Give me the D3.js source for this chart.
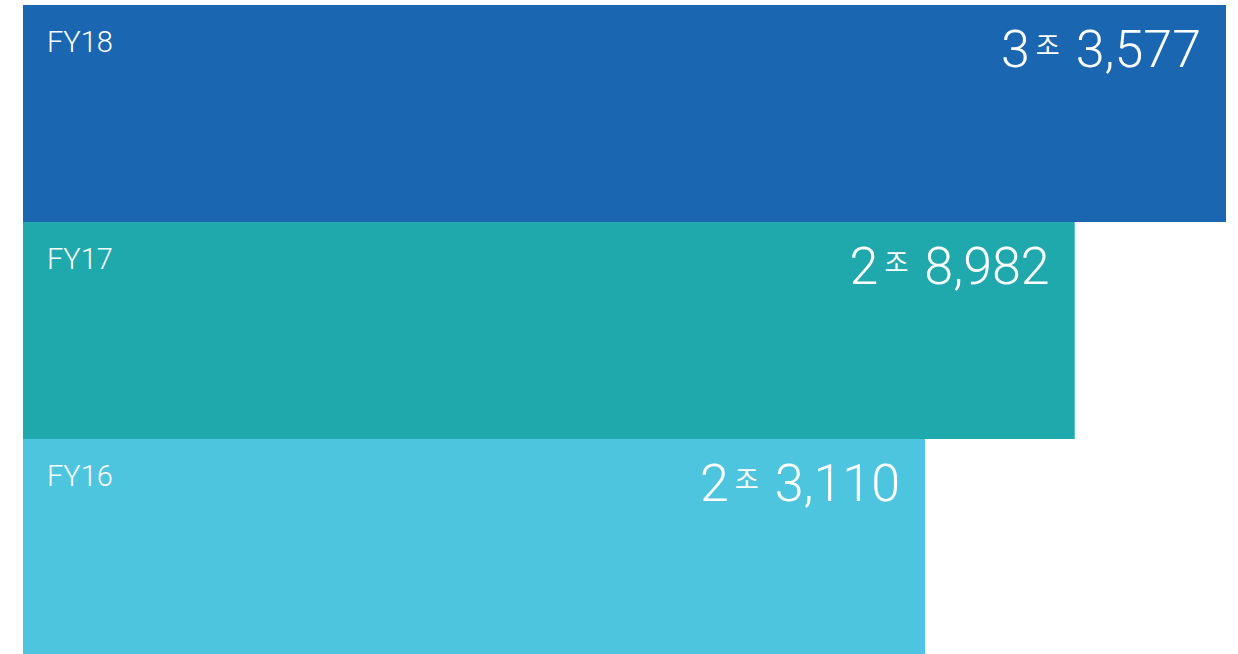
<script src="https://d3js.org/d3.v7.js"></script>
<style>
    body { margin: 0; background: #fff; }
    svg text { font-family: Roboto, "Noto Sans CJK KR", sans-serif; fill: #fff; }
</style>
<svg width="1238" height="654"></svg>
<script>
    // 매출액 (억 원)
    const years = ['FY18', 'FY17', 'FY16'];
    const sales = [33577, 28982, 23110];
    const colors = ['#1a66b1', '#1fa9ad', '#4ec5df'];

    const svg = d3.select('svg');
    const left = 23;

    const y = d3.scaleBand()
        .domain(years)
        .range([5, 656])
        .padding(0);

    // bars in the original do not start at zero, so a stretched scale is used
    const w = d3.scalePow()
        .exponent(2.4)
        .domain([d3.min(sales), d3.max(sales)])
        .range([902, 1203]);

    const data = years.map((yr, i) => ({year: yr, value: sales[i], color: colors[i]}));

    const g = svg.selectAll('g.bar')
        .data(data)
        .join('g')
        .attr('class', 'bar')
        .attr('transform', d => `translate(${left},${y(d.year)})`);

    g.append('rect')
        .attr('width', d => w(d.value))
        .attr('height', y.bandwidth())
        .attr('fill', d => d.color);

    g.append('text')
        .attr('x', 24)
        .attr('y', 47)
        .attr('font-size', 29)
        .attr('font-weight', 300)
        .text(d => d.year);

    const fmt = d3.format(',');
    const label = g.append('text')
        .attr('x', d => w(d.value) - 25)
        .attr('y', 62)
        .attr('text-anchor', 'end')
        .attr('font-size', 52)
        .attr('font-weight', 300);

    label.append('tspan')
        .text(d => Math.floor(d.value / 10000));
    label.append('tspan')
        .attr('font-size', 26)
        .attr('font-weight', 400)
        .attr('dy', -12)
        .attr('dx', 6)
        .style('font-family', '"Noto Sans CJK KR"')
        .text('조');
    label.append('tspan')
        .attr('dy', 12)
        .attr('dx', 16)
        .text(d => fmt(d.value % 10000));
</script>
